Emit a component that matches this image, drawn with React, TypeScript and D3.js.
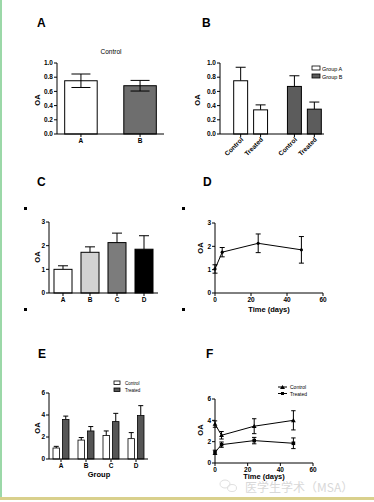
import React from 'react';
import { scaleBand, scaleLinear, line, format } from 'd3';

// panel A
const aCats = ['A', 'B'];
const aMeans = [0.75, 0.68];
const aErr = [0.095, 0.075];
const aTicks = [0, 0.2, 0.4, 0.6, 0.8, 1.0];

// panel B
const bGroups = ['Group A', 'Group B'];
const bConds = ['Control', 'Treated'];
const bMeans = [[0.75, 0.34], [0.67, 0.35]];
const bErr = [[0.19, 0.07], [0.15, 0.10]];

// panel C / D
const cCats = ['A', 'B', 'C', 'D'];
const cMeans = [1.0, 1.72, 2.13, 1.85];
const cErr = [0.15, 0.23, 0.4, 0.57];
const cColors = ['#ffffff', '#d2d2d2', '#7c7c7c', '#000000'];
const dDays = [0, 4, 24, 48];
const dMeans = [1.03, 1.75, 2.13, 1.85];
const dErr = [0.18, 0.2, 0.4, 0.57];
const cTicks = [0, 1, 2, 3];
const dayTicks = [0, 20, 40, 60];

// panel E
const eSeries = ['Control', 'Treated'];
const eCtrl = [1.0, 1.72, 2.13, 1.85];
const eCtrlErr = [0.15, 0.23, 0.42, 0.55];
const eTreat = [3.6, 2.55, 3.4, 3.95];
const eTreatErr = [0.3, 0.4, 0.75, 0.9];
const eTicks = [0, 2, 4, 6];

// panel F
const fCtrl = [1.0, 1.72, 2.1, 1.85];
const fCtrlErr = [0.2, 0.25, 0.3, 0.5];
const fTreat = [3.65, 2.6, 3.45, 4.0];
const fTreatErr = [0.3, 0.35, 0.7, 0.9];

const FONT = '"Liberation Sans", Arial, sans-serif';

function YAxis({ y, x, ticks, fmt }: any) {
    const d = y.domain();
    return (
        <g>
            <line x1={x} x2={x} y1={y(d[0])} y2={y(d[1])} stroke="#000" strokeWidth={1} />
            {ticks.map((t: number) => (
                <g key={t}>
                    <line x1={x - 3} x2={x} y1={y(t)} y2={y(t)} stroke="#000" />
                    <text x={x - 4} y={y(t) + 2.2} textAnchor="end" fontSize={6.5} fontWeight="bold">{fmt(t)}</text>
                </g>
            ))}
        </g>
    );
}

function ErrBar({ cx, y, m, e, cap, both }: any) {
    return (
        <g stroke="#000" strokeWidth={1}>
            <line x1={cx} x2={cx} y1={y(m + e)} y2={both ? y(m - e) : y(m)} />
            <line x1={cx - cap} x2={cx + cap} y1={y(m + e)} y2={y(m + e)} />
            {both && <line x1={cx - cap} x2={cx + cap} y1={y(m - e)} y2={y(m - e)} />}
        </g>
    );
}

function Letter({ x, y, t }: any) {
    return <text x={x} y={y} fontSize={12} fontWeight="bold">{t}</text>;
}

function OA({ x, y }: any) {
    return <text transform={`translate(${x},${y}) rotate(-90)`} textAnchor="middle" fontSize={7.5} fontWeight="bold">OA</text>;
}

function App() {
    const f1 = format('.1f');
    const f0 = format('d');

    // A
    const ay = scaleLinear().domain([0, 1]).range([134, 63]);
    const ax = scaleBand().domain(aCats).range([57, 164]).paddingInner(0.45).paddingOuter(0.13);

    // B
    const by = scaleLinear().domain([0, 1]).range([134, 63]);
    const bx0 = scaleBand().domain(bGroups).range([231, 324]).paddingInner(0.37).paddingOuter(0.05);
    const bx1 = scaleBand().domain(bConds).range([0, bx0.bandwidth()]).paddingInner(0.3);
    const bFill = ['#ffffff', '#5c5c5c'];

    // C
    const cy = scaleLinear().domain([0, 3]).range([293, 222]);
    const cx = scaleBand().domain(cCats).range([49, 158]).paddingInner(0.333).paddingOuter(0.185);

    // D
    const dy = scaleLinear().domain([0, 3]).range([293, 223]);
    const dx = scaleLinear().domain([0, 60]).range([215, 323]);
    const dLine = line<number>().x((_, i) => dx(dDays[i])).y(v => dy(v));

    // E
    const ey = scaleLinear().domain([0, 6]).range([459, 393]);
    const ex0 = scaleBand().domain(cCats).range([49, 148]).paddingInner(0.36).paddingOuter(0.16);
    const ex1 = scaleBand().domain(eSeries).range([0, ex0.bandwidth()]).paddingInner(0.316);
    const eVals = [eCtrl, eTreat];
    const eErrs = [eCtrlErr, eTreatErr];
    const eFill = ['#ffffff', '#555555'];

    // F
    const fy = scaleLinear().domain([0, 6]).range([463, 399]);
    const fx = scaleLinear().domain([0, 60]).range([215, 313]);
    const fLine = line<number>().x((_, i) => fx(dDays[i])).y(v => fy(v));

    const squares = [[24, 207], [182, 207], [24, 308], [182, 308]];

    return (
        <svg width={374} height={502} style={{ position: 'absolute', left: 0, top: 0, background: '#fff' }} fontFamily={FONT}>
            <rect x={0} y={0} width={374} height={502} fill="#fff" />
            <rect x={0} y={0} width={2} height={497} fill="#9bd8a8" />
            <rect x={0} y={497} width={374} height={3} fill="#d9d08c" />

            {/* A */}
            <Letter x={37} y={27} t="A" />
            <text x={111} y={54} textAnchor="middle" fontSize={6.5}>Control</text>
            <OA x={40} y={100} />
            {aCats.map((c, i) => (
                <g key={c}>
                    <rect x={ax(c)} y={ay(aMeans[i])} width={ax.bandwidth()} height={ay(0) - ay(aMeans[i])}
                        fill={i === 0 ? '#fff' : '#6e6e6e'} stroke="#000" strokeWidth={1} />
                    <ErrBar cx={ax(c)! + ax.bandwidth() / 2} y={ay} m={aMeans[i]} e={aErr[i]} cap={9.5} both />
                    <line x1={ax(c)! + ax.bandwidth() / 2} x2={ax(c)! + ax.bandwidth() / 2} y1={134} y2={137} stroke="#000" />
                    <text x={ax(c)! + ax.bandwidth() / 2} y={143} textAnchor="middle" fontSize={6.5} fontWeight="bold">{c}</text>
                </g>
            ))}
            <line x1={57} x2={164} y1={134} y2={134} stroke="#000" />
            <YAxis y={ay} x={57} ticks={aTicks} fmt={f1} />

            {/* B */}
            <Letter x={202} y={27} t="B" />
            <OA x={200} y={100} />
            {bGroups.map((g, gi) => bConds.map((c, ci) => {
                const x = bx0(g)! + bx1(c)!;
                const m = bMeans[gi][ci];
                const mid = x + bx1.bandwidth() / 2;
                return (
                    <g key={g + c}>
                        <ErrBar cx={mid} y={by} m={m} e={bErr[gi][ci]} cap={5} />
                        <rect x={x} y={by(m)} width={bx1.bandwidth()} height={by(0) - by(m)} fill={bFill[gi]} stroke="#000" />
                        <line x1={mid} x2={mid} y1={134} y2={137} stroke="#000" />
                        <text transform={`translate(${mid + 3},${140}) rotate(-45)`} textAnchor="end" fontSize={6.5} fontWeight="bold">{c}</text>
                    </g>
                );
            }))}
            <line x1={220} x2={324} y1={134} y2={134} stroke="#000" />
            <YAxis y={by} x={220} ticks={aTicks} fmt={f1} />
            {bGroups.map((g, gi) => (
                <g key={g}>
                    <rect x={312} y={66 + gi * 8} width={8} height={4} fill={bFill[gi]} stroke="#000" strokeWidth={0.8} />
                    <text x={322} y={70.5 + gi * 8} fontSize={5.5}>{g}</text>
                </g>
            ))}

            {/* C */}
            <Letter x={37} y={186} t="C" />
            {squares.map(([x, y], i) => <rect key={i} x={x} y={y} width={3} height={3} fill="#000" />)}
            <OA x={40} y={257} />
            {cCats.map((c, i) => {
                const mid = cx(c)! + cx.bandwidth() / 2;
                return (
                    <g key={c}>
                        <ErrBar cx={mid} y={cy} m={cMeans[i]} e={cErr[i]} cap={5} />
                        <rect x={cx(c)} y={cy(cMeans[i])} width={cx.bandwidth()} height={cy(0) - cy(cMeans[i])} fill={cColors[i]} stroke="#000" />
                        <line x1={mid} x2={mid} y1={293} y2={296} stroke="#000" />
                        <text x={mid} y={302} textAnchor="middle" fontSize={6.5} fontWeight="bold">{c}</text>
                    </g>
                );
            })}
            <line x1={49} x2={158} y1={293} y2={293} stroke="#000" />
            <YAxis y={cy} x={49} ticks={cTicks} fmt={f0} />

            {/* D */}
            <Letter x={203} y={186} t="D" />
            <OA x={203} y={248} />
            <path d={dLine(dMeans)!} fill="none" stroke="#000" strokeWidth={1} />
            {dMeans.map((m, i) => (
                <g key={i}>
                    <ErrBar cx={dx(dDays[i])} y={dy} m={m} e={dErr[i]} cap={2.5} both />
                    <circle cx={dx(dDays[i])} cy={dy(m)} r={1.6} fill="#000" />
                </g>
            ))}
            <line x1={215} x2={323} y1={293} y2={293} stroke="#000" />
            {dayTicks.map(t => (
                <g key={t}>
                    <line x1={dx(t)} x2={dx(t)} y1={293} y2={296} stroke="#000" />
                    <text x={dx(t)} y={302} textAnchor="middle" fontSize={6.5} fontWeight="bold">{t}</text>
                </g>
            ))}
            <YAxis y={dy} x={215} ticks={cTicks} fmt={f0} />
            <text x={269} y={312} textAnchor="middle" fontSize={7.5} fontWeight="bold">Time (days)</text>

            {/* E */}
            <Letter x={38} y={358} t="E" />
            <OA x={40} y={428} />
            {cCats.map((c, ci) => eSeries.map((s, si) => {
                const x = ex0(c)! + ex1(s)!;
                const m = eVals[si][ci];
                const mid = x + ex1.bandwidth() / 2;
                return (
                    <g key={c + s}>
                        <ErrBar cx={mid} y={ey} m={m} e={eErrs[si][ci]} cap={2.5} />
                        <rect x={x} y={ey(m)} width={ex1.bandwidth()} height={ey(0) - ey(m)} fill={eFill[si]} stroke="#000" strokeWidth={0.8} />
                    </g>
                );
            }))}
            {cCats.map(c => {
                const mid = ex0(c)! + ex0.bandwidth() / 2;
                return (
                    <g key={c}>
                        <line x1={mid} x2={mid} y1={459} y2={462} stroke="#000" />
                        <text x={mid} y={468} textAnchor="middle" fontSize={6.5} fontWeight="bold">{c}</text>
                    </g>
                );
            })}
            <line x1={49} x2={148} y1={459} y2={459} stroke="#000" />
            <YAxis y={ey} x={49} ticks={eTicks} fmt={f0} />
            <text x={99} y={477} textAnchor="middle" fontSize={7.5} fontWeight="bold">Group</text>
            {eSeries.map((s, si) => (
                <g key={s}>
                    <rect x={114} y={381 + si * 7} width={6} height={3.5} fill={eFill[si]} stroke="#000" strokeWidth={0.8} />
                    <text x={125} y={385 + si * 7} fontSize={4.5}>{s}</text>
                </g>
            ))}

            {/* F */}
            <Letter x={206} y={358} t="F" />
            <OA x={203} y={430} />
            {[fCtrl, fTreat].map((vals, si) => (
                <g key={si}>
                    <path d={fLine(vals)!} fill="none" stroke="#000" strokeWidth={1} />
                    {vals.map((m, i) => {
                        const e = si === 0 ? fCtrlErr[i] : fTreatErr[i];
                        const px = fx(dDays[i]);
                        const py = fy(m);
                        return (
                            <g key={i}>
                                <ErrBar cx={px} y={fy} m={m} e={e} cap={2.2} both />
                                {si === 0
                                    ? <rect x={px - 1.8} y={py - 1.8} width={3.6} height={3.6} fill="#000" />
                                    : <path d={`M${px},${py - 2.4}L${px + 2.4},${py + 1.8}L${px - 2.4},${py + 1.8}Z`} fill="#000" />}
                            </g>
                        );
                    })}
                </g>
            ))}
            <line x1={215} x2={313} y1={463} y2={463} stroke="#000" />
            {dayTicks.map(t => (
                <g key={t}>
                    <line x1={fx(t)} x2={fx(t)} y1={463} y2={466} stroke="#000" />
                    <text x={fx(t)} y={472} textAnchor="middle" fontSize={6.5} fontWeight="bold">{t}</text>
                </g>
            ))}
            <YAxis y={fy} x={215} ticks={eTicks} fmt={f0} />
            <text x={264} y={479} textAnchor="middle" fontSize={7.5} fontWeight="bold">Time (days)</text>
            {eSeries.map((s, si) => (
                <g key={s}>
                    <line x1={278} x2={287} y1={387 + si * 6.5} y2={387 + si * 6.5} stroke="#000" />
                    {si === 0
                        ? <path d={`M282.5,${385}L285,${389}L280,${389}Z`} fill="#000" />
                        : <rect x={281} y={392} width={3} height={3} fill="#000" />}
                    <text x={290} y={389 + si * 6.5} fontSize={5}>{s}</text>
                </g>
            ))}

            {/* watermark */}
            <g opacity={0.45}>
                <ellipse cx={225} cy={484} rx={5} ry={4} fill="none" stroke="#bbb" strokeWidth={1} />
                <ellipse cx={232} cy={488} rx={4.5} ry={3.5} fill="none" stroke="#bbb" strokeWidth={1} />
                <text x={245} y={492} fontSize={12} fill="#aaa" fontFamily='"Noto Sans CJK SC", sans-serif'>医学生学术（MSA）</text>
            </g>
        </svg>
    );
}

export default App;
